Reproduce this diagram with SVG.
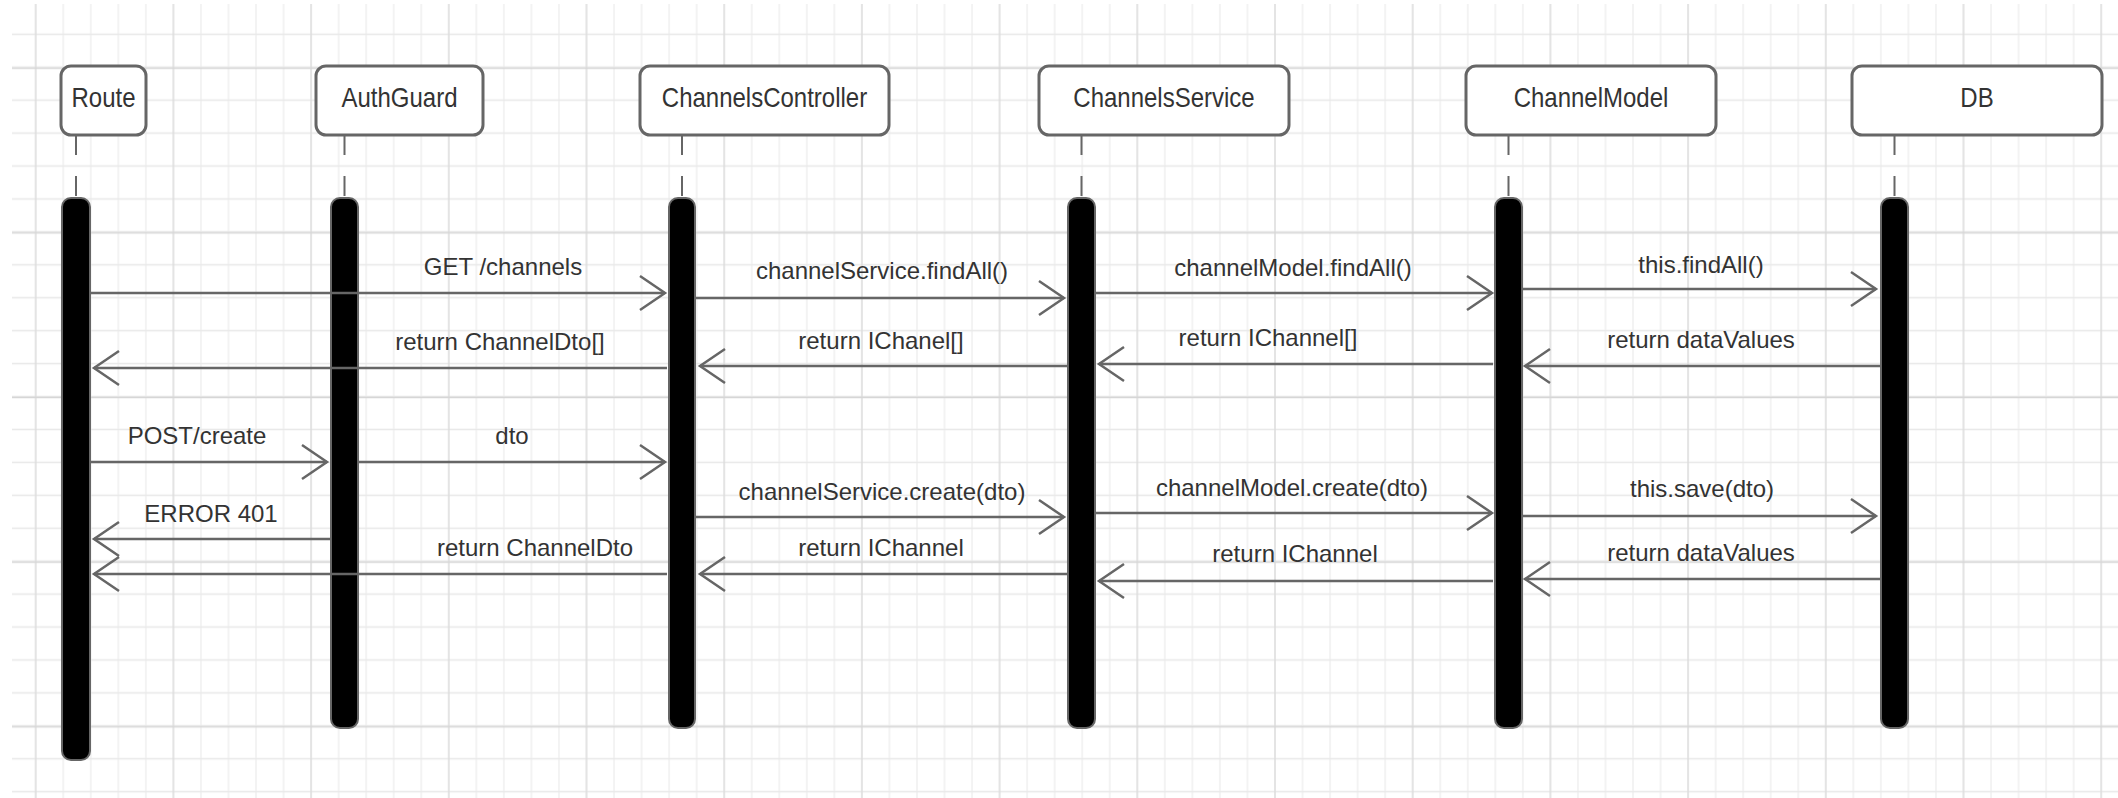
<svg xmlns="http://www.w3.org/2000/svg" width="2118" height="798" viewBox="0 0 2118 798">
<style>
.box{fill:#fff;stroke:#666;stroke-width:3}
.bar{fill:#000;stroke:#666;stroke-width:2}
.life{stroke:#666;stroke-width:2;stroke-dasharray:20 21;fill:none}
.msg{stroke:#666;stroke-width:2.5;fill:none;marker-end:url(#ah)}
.nl{font-family:"Liberation Sans",Arial,sans-serif;font-size:24px;fill:#333;text-anchor:middle}
.ml{font-family:"Liberation Sans",Arial,sans-serif;font-size:24px;fill:#333;text-anchor:middle}
</style>
<defs>
<marker id="ah" viewBox="-28 -20 31 40" refX="0" refY="0" markerWidth="31" markerHeight="40" markerUnits="userSpaceOnUse" orient="auto">
<path d="M-25,-17 L0,0 L-25,17" fill="none" stroke="#666" stroke-width="2.5"/>
</marker>
<pattern id="gMinor" patternUnits="userSpaceOnUse" x="21.93" y="17.835" width="27.54" height="32.93">
<path d="M13.77,0 V32.93" stroke="#e8e8e8" stroke-width="1"/>
<path d="M0,16.465 H27.54" stroke="#e8e8e8" stroke-width="1.5"/>
</pattern>
<pattern id="gMajor" patternUnits="userSpaceOnUse" x="-33.15" y="-14.13" width="137.7" height="164.65">
<path d="M68.85,0 V164.65" stroke="#d6d6d6" stroke-width="1"/>
<path d="M0,82.33 H137.7" stroke="#d6d6d6" stroke-width="1.5"/>
</pattern>
</defs>
<rect width="2118" height="798" fill="#fff"/>
<rect x="12" y="4" width="2106" height="794" fill="url(#gMinor)"/>
<rect x="12" y="4" width="2106" height="794" fill="url(#gMajor)"/>

<g id="route">
<rect class="box" x="61" y="66" width="85" height="69" rx="10"/>
<text class="nl" transform="translate(103.5,107) scale(1,1.17)">Route</text>
<line class="life" x1="76" y1="135" x2="76" y2="198"/>
<rect class="bar" x="62" y="198" width="28" height="562" rx="9"/>
</g>
<g id="authguard">
<rect class="box" x="316" y="66" width="167" height="69" rx="10"/>
<text class="nl" transform="translate(399.5,107) scale(1,1.17)">AuthGuard</text>
<line class="life" x1="344.5" y1="135" x2="344.5" y2="198"/>
<rect class="bar" x="331" y="198" width="27" height="530" rx="9"/>
</g>
<g id="controller">
<rect class="box" x="640" y="66" width="249" height="69" rx="10"/>
<text class="nl" transform="translate(764.5,107) scale(1,1.17)">ChannelsController</text>
<line class="life" x1="682" y1="135" x2="682" y2="198"/>
<rect class="bar" x="669" y="198" width="26" height="530" rx="9"/>
</g>
<g id="service">
<rect class="box" x="1039" y="66" width="250" height="69" rx="10"/>
<text class="nl" transform="translate(1164,107) scale(1,1.17)">ChannelsService</text>
<line class="life" x1="1081.5" y1="135" x2="1081.5" y2="198"/>
<rect class="bar" x="1068" y="198" width="27" height="530" rx="9"/>
</g>
<g id="model">
<rect class="box" x="1466" y="66" width="250" height="69" rx="10"/>
<text class="nl" transform="translate(1591,107) scale(1,1.17)">ChannelModel</text>
<line class="life" x1="1508.5" y1="135" x2="1508.5" y2="198"/>
<rect class="bar" x="1495" y="198" width="27" height="530" rx="9"/>
</g>
<g id="db">
<rect class="box" x="1852" y="66" width="250" height="69" rx="10"/>
<text class="nl" transform="translate(1977,107) scale(1,1.17)">DB</text>
<line class="life" x1="1894.5" y1="135" x2="1894.5" y2="198"/>
<rect class="bar" x="1881" y="198" width="27" height="530" rx="9"/>
</g>

<g id="connectors">
<line class="msg" x1="91" y1="293" x2="665" y2="293"/>
<text class="ml" x="503" y="275">GET /channels</text>
<line class="msg" x1="667" y1="368" x2="94" y2="368"/>
<text class="ml" x="500" y="350">return ChannelDto[]</text>
<line class="msg" x1="91" y1="462" x2="327" y2="462"/>
<text class="ml" x="197" y="444">POST/create</text>
<line class="msg" x1="359" y1="462" x2="665" y2="462"/>
<text class="ml" x="512" y="444">dto</text>
<line class="msg" x1="330" y1="539" x2="94" y2="539"/>
<text class="ml" x="211" y="522">ERROR 401</text>
<line class="msg" x1="667" y1="574" x2="94" y2="574"/>
<text class="ml" x="535" y="556">return ChannelDto</text>

<line class="msg" x1="696" y1="298" x2="1064" y2="298"/>
<text class="ml" x="882" y="279">channelService.findAll()</text>
<line class="msg" x1="1067" y1="366" x2="700" y2="366"/>
<text class="ml" x="881" y="349">return IChanel[]</text>
<line class="msg" x1="696" y1="517" x2="1064" y2="517"/>
<text class="ml" x="882" y="500">channelService.create(dto)</text>
<line class="msg" x1="1067" y1="574" x2="700" y2="574"/>
<text class="ml" x="881" y="556">return IChannel</text>

<line class="msg" x1="1096" y1="293" x2="1492" y2="293"/>
<text class="ml" x="1293" y="276">channelModel.findAll()</text>
<line class="msg" x1="1493" y1="364" x2="1099" y2="364"/>
<text class="ml" x="1268" y="346">return IChannel[]</text>
<line class="msg" x1="1096" y1="513" x2="1492" y2="513"/>
<text class="ml" x="1292" y="496">channelModel.create(dto)</text>
<line class="msg" x1="1493" y1="581" x2="1099" y2="581"/>
<text class="ml" x="1295" y="562">return IChannel</text>

<line class="msg" x1="1523" y1="289" x2="1876" y2="289"/>
<text class="ml" x="1701" y="273">this.findAll()</text>
<line class="msg" x1="1880" y1="366" x2="1525" y2="366"/>
<text class="ml" x="1701" y="348">return dataValues</text>
<line class="msg" x1="1523" y1="516" x2="1876" y2="516"/>
<text class="ml" x="1702" y="497">this.save(dto)</text>
<line class="msg" x1="1880" y1="579" x2="1525" y2="579"/>
<text class="ml" x="1701" y="561">return dataValues</text>
</g>
</svg>
